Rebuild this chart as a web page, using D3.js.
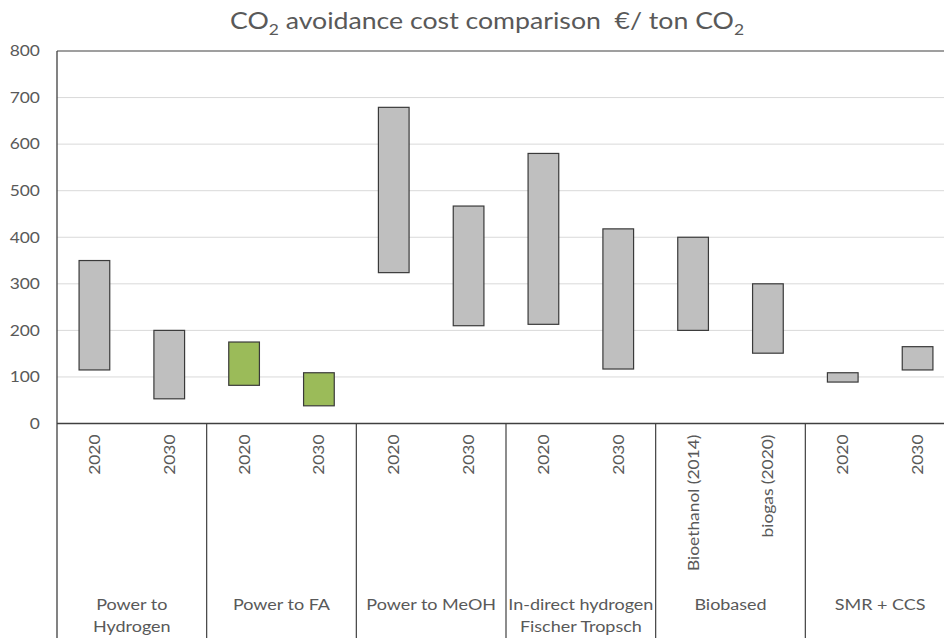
<!DOCTYPE html>
<html>
<head>
<meta charset="utf-8">
<script src="https://cdn.jsdelivr.net/npm/d3@7"></script>
<style>
  body { margin: 0; background: #fff; }
  text { font-family: Lato, "Open Sans", sans-serif; fill: #595959; }
</style>
</head>
<body>
<div id="chart"></div>
<script>
// groups and the two bars inside each
const groups = ["Power to\nHydrogen", "Power to FA", "Power to MeOH",
                "In-direct hydrogen\nFischer Tropsch", "Biobased", "SMR + CCS"];
const subLabels = [["2020", "2030"], ["2020", "2030"], ["2020", "2030"],
                   ["2020", "2030"], ["Bioethanol (2014)", "biogas (2020)"], ["2020", "2030"]];
// low / high cost range per bar, €/ton CO2
const lows  = [115, 53, 82, 38, 324, 210, 213, 117, 200, 151, 89, 115];
const highs = [350, 200, 175, 109, 679, 467, 580, 418, 400, 300, 109, 165];
const barColors = ["#bfbfbf", "#bfbfbf", "#9bbb59", "#9bbb59", "#bfbfbf", "#bfbfbf",
                   "#bfbfbf", "#bfbfbf", "#bfbfbf", "#bfbfbf", "#bfbfbf", "#bfbfbf"];
const yTicks = [0, 100, 200, 300, 400, 500, 600, 700, 800];

const W = 944, H = 638;
const plotLeft = 57, plotRight = 955, plotTop = 51, zeroY = 423.5;
const sx = 1.16; // the original font runs wider than Lato

const svg = d3.select("#chart").append("svg")
    .attr("width", W).attr("height", H);

const bars = [];
groups.forEach(function(g, gi) {
    subLabels[gi].forEach(function(s, si) {
        const i = gi * 2 + si;
        bars.push({id: i, group: g, label: s, low: lows[i], high: highs[i], color: barColors[i]});
    });
});

const x = d3.scaleBand()
    .domain(bars.map(d => d.id))
    .range([plotLeft, plotRight])
    .paddingInner(0.59).paddingOuter(0.295);

const xg = d3.scaleBand()
    .domain(groups)
    .range([plotLeft, plotRight]);

const y = d3.scaleLinear()
    .domain([0, 800])
    .range([zeroY, plotTop]);

// gridlines
svg.append("g")
    .selectAll("line")
    .data(yTicks.filter(t => t > 0 && t < 800))
    .enter().append("line")
    .attr("x1", plotLeft).attr("x2", W)
    .attr("y1", d => y(d)).attr("y2", d => y(d))
    .attr("stroke", "#d9d9d9").attr("stroke-width", 1);

// top border
svg.append("line")
    .attr("x1", plotLeft).attr("x2", W)
    .attr("y1", y(800)).attr("y2", y(800))
    .attr("stroke", "#7f7f7f").attr("stroke-width", 1.3);

// y axis
const yAxis = svg.append("g")
    .attr("transform", "translate(" + plotLeft + ",0)")
    .call(d3.axisLeft(y).tickValues(yTicks).tickSize(0).tickPadding(14.7));
yAxis.select(".domain").remove();
yAxis.selectAll("text")
    .style("font-size", "15px")
    .style("font-family", "Lato, 'Open Sans', sans-serif")
    .attr("fill", "#595959")
    .attr("transform", "scale(" + sx + ",1)");

// bars
svg.append("g")
    .selectAll("rect")
    .data(bars)
    .enter().append("rect")
    .attr("x", d => x(d.id))
    .attr("width", x.bandwidth())
    .attr("y", d => y(d.high))
    .attr("height", d => y(d.low) - y(d.high))
    .attr("fill", d => d.color)
    .attr("stroke", "#3a3a3a")
    .attr("stroke-width", 1.2);

// left axis line down through the label area
svg.append("line")
    .attr("x1", plotLeft).attr("x2", plotLeft)
    .attr("y1", plotTop).attr("y2", H)
    .attr("stroke", "#404040").attr("stroke-width", 1.3);

// x baseline
svg.append("line")
    .attr("x1", plotLeft).attr("x2", W)
    .attr("y1", zeroY).attr("y2", zeroY)
    .attr("stroke", "#404040").attr("stroke-width", 1.3);

// group dividers
svg.append("g")
    .selectAll("line")
    .data(groups.slice(1))
    .enter().append("line")
    .attr("x1", d => xg(d)).attr("x2", d => xg(d))
    .attr("y1", zeroY).attr("y2", H)
    .attr("stroke", "#404040").attr("stroke-width", 1.2);

// rotated bar labels
svg.append("g")
    .selectAll("text")
    .data(bars)
    .enter().append("text")
    .attr("transform", d => "translate(" + (x(d.id) + x.bandwidth() / 2 + 5.5) + "," + (zeroY + 11) + ") rotate(-90) scale(" + sx + ",1)")
    .attr("text-anchor", "end")
    .style("font-size", "15px")
    .text(d => d.label);

// group labels
const gl = svg.append("g")
    .selectAll("text")
    .data(groups)
    .enter().append("text")
    .attr("transform", d => "translate(" + (xg(d) + xg.bandwidth() / 2) + ",610) scale(" + sx + ",1)")
    .attr("text-anchor", "middle")
    .style("font-size", "15.5px");
gl.each(function(d) {
    const t = d3.select(this);
    d.split("\n").forEach(function(l, i) {
        t.append("tspan")
            .attr("x", 0)
            .attr("dy", i === 0 ? 0 : 22)
            .text(l);
    });
});

// title
const title = svg.append("text")
    .attr("transform", "translate(487,29) scale(" + sx + ",1)")
    .attr("text-anchor", "middle")
    .style("white-space", "pre")
    .style("font-size", "23px");
title.append("tspan").text("CO");
title.append("tspan").attr("dy", 6).style("font-size", "15px").text("2");
title.append("tspan").attr("dy", -6).text(" avoidance cost comparison  \u20ac/ ton CO");
title.append("tspan").attr("dy", 6).style("font-size", "15px").text("2");
</script>
</body>
</html>
